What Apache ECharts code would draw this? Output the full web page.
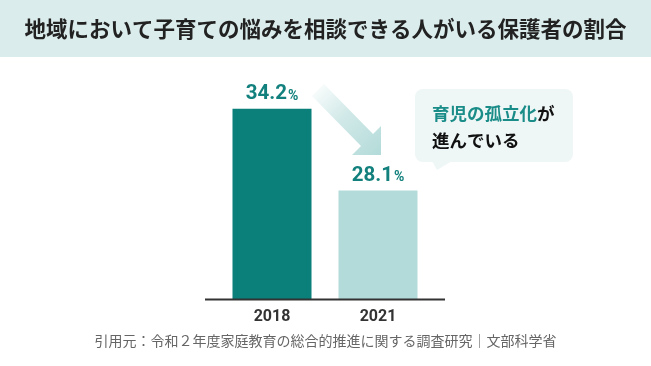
<!DOCTYPE html>
<html><head><meta charset="utf-8">
<script src="https://cdn.jsdelivr.net/npm/echarts@6/dist/echarts.min.js"></script>
<style>html,body{margin:0;padding:0;background:#fff}#c{width:651px;height:366px}</style>
</head><body><div id="c"></div>
<script>
const titleText = '地域において子育ての悩みを相談できる人がいる保護者の割合';
const sourceText = '引用元：令和２年度家庭教育の総合的推進に関する調査研究｜文部科学省';
const categories = ['2018', '2021'];
const values = [34.2, 28.1];
const barColors = ['#0b7f7a', '#b3dbd9'];
const calloutLine1a = '育児の孤立化';
const calloutLine1b = 'が';
const calloutLine2 = '進んでいる';

const JP = '"Noto Sans CJK JP", "Noto Sans", sans-serif';
const NUM = 'Roboto, "Noto Sans", sans-serif';
const chart = echarts.init(document.getElementById('c'), null, {renderer: 'canvas'});
chart.setOption({
  backgroundColor: '#ffffff',
  animation: false,
  grid: {left: 219, right: 220, top: 31, bottom: 67},
  xAxis: {
    type: 'category', data: categories,
    axisLine: {show: false}, axisTick: {show: false},
    axisLabel: {margin: 10, fontFamily: NUM, fontWeight: 'bold', fontSize: 16, color: '#333333'}
  },
  yAxis: {type: 'value', min: 20, max: 40, show: false, splitLine: {show: false}},
  series: [{
    type: 'bar', barWidth: 79,
    data: values.map((v, i) => ({value: v, itemStyle: {color: barColors[i]}})),
    label: {
      show: true, position: 'top', distance: 4,
      formatter: p => '{n|' + p.value.toFixed(1) + '}{p|%}',
      rich: {
        n: {fontFamily: NUM, fontWeight: 'bold', fontSize: 20.5, color: '#12807c'},
        p: {fontFamily: NUM, fontWeight: 'bold', fontSize: 14, color: '#12807c', padding: [4, 0, 0, 1]}
      }
    }
  }],
  graphic: [
    {type: 'rect', left: 0, top: 0, shape: {width: 651, height: 57}, style: {fill: '#daeceb'}, z: -1},
    {type: 'text', x: 325.5, y: 29, style: {text: titleText, font: 'bold 21.5px ' + JP, fill: '#222222', textAlign: 'center', textVerticalAlign: 'middle'}},
    {type: 'text', x: 325.5, y: 341, style: {text: sourceText, font: '14px ' + JP, fill: '#666666', textAlign: 'center', textVerticalAlign: 'middle'}},
    {type: 'line', shape: {x1: 205, y1: 299.5, x2: 445, y2: 299.5}, style: {stroke: '#333333', lineWidth: 2}, z: 10},
    {type: 'polygon',
      shape: {points: [[312, 96], [324, 84], [373, 134], [381, 126], [381, 155], [352, 155], [361, 146]]},
      style: {fill: new echarts.graphic.LinearGradient(0, 0, 1, 1, [
        {offset: 0, color: 'rgba(179,219,217,0)'},
        {offset: 0.45, color: 'rgba(179,219,217,0.6)'},
        {offset: 1, color: 'rgba(179,219,217,1)'}
      ])}},
    {type: 'rect', shape: {x: 415, y: 89, width: 158, height: 73, r: 8}, style: {fill: '#eef6f6'}},
    {type: 'polygon', shape: {points: [[432, 161], [452, 161], [437, 170]]}, style: {fill: '#eef6f6'}},
    {type: 'text', x: 432, y: 113, style: {
      text: '{a|' + calloutLine1a + '}{b|' + calloutLine1b + '}', textVerticalAlign: 'middle',
      rich: {a: {font: 'bold 17.5px ' + JP, fill: '#1b8d89'}, b: {font: 'bold 17.5px ' + JP, fill: '#111111'}}
    }},
    {type: 'text', x: 432, y: 140, style: {text: calloutLine2, font: 'bold 17.5px ' + JP, fill: '#111111', textVerticalAlign: 'middle'}}
  ]
});
</script></body></html>
